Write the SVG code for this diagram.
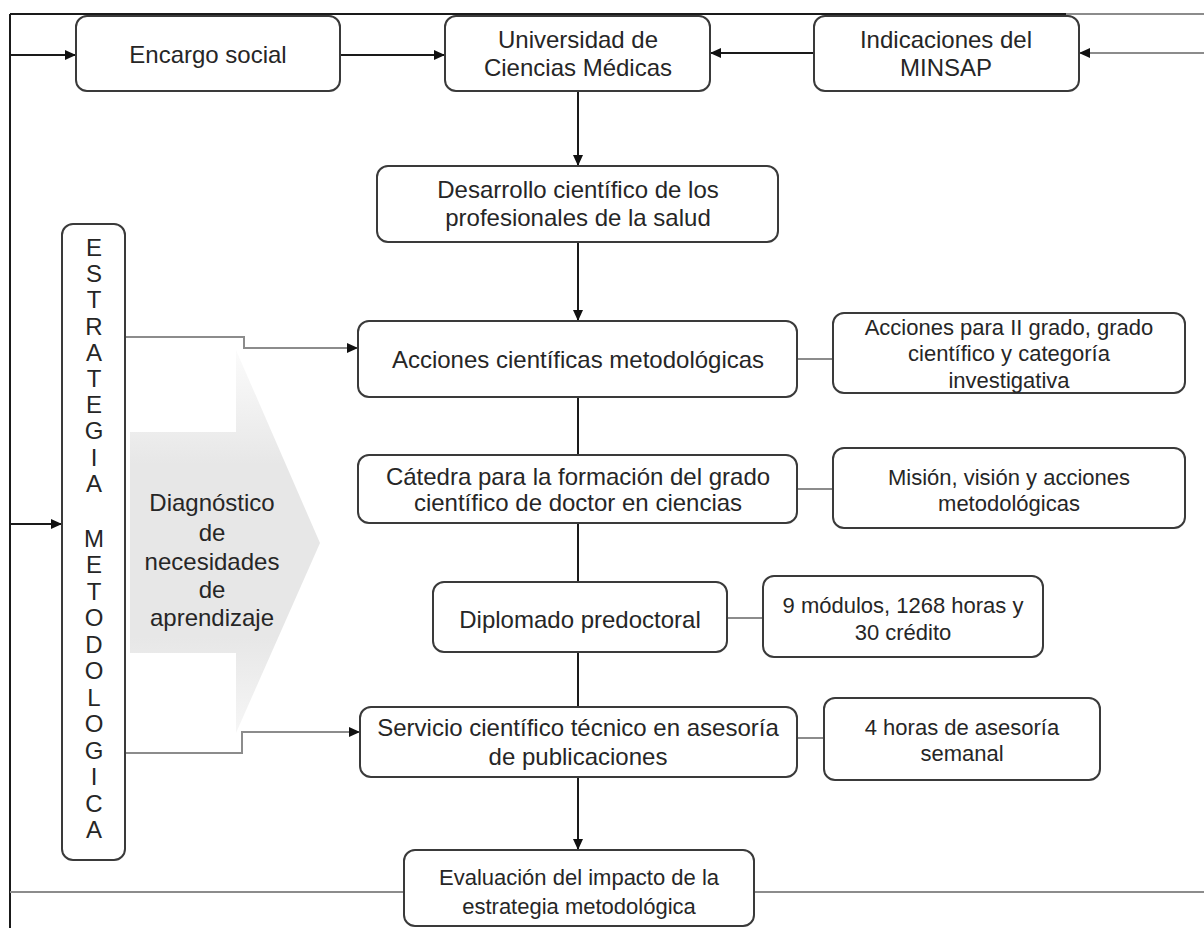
<svg xmlns="http://www.w3.org/2000/svg" width="1204" height="928" viewBox="0 0 1204 928">
<style>
.box{fill:#fff;stroke:#3a3a3a;stroke-width:2}
.t{font-family:"Liberation Sans",Arial,sans-serif;font-size:24px;fill:#262626;text-anchor:middle}
.s{font-size:22px}
.dk{fill:none;stroke:#1a1a1a;stroke-width:2}
.gr{fill:none;stroke:#8c8c8c;stroke-width:2}
</style>
<defs>
<marker id="ah" markerUnits="userSpaceOnUse" markerWidth="12" markerHeight="10" refX="11" refY="5" orient="auto">
<path d="M0,0 L11,5 L0,10 Z" fill="#111"/>
</marker>
<linearGradient id="gg" x1="0" y1="350" x2="0" y2="733" gradientUnits="userSpaceOnUse">
<stop offset="0" stop-color="#fbfbfb"/>
<stop offset="0.3" stop-color="#e7e7e7"/>
<stop offset="0.75" stop-color="#e7e7e7"/>
<stop offset="1" stop-color="#f6f6f6"/>
</linearGradient>
</defs>
<rect width="1204" height="928" fill="#fff"/>
<g id="bigarrow">
<path d="M130,432 L236,432 L236,350 L320,543 L236,733 L236,653 L130,653 Z" fill="url(#gg)"/>
</g>
<g id="connectors">
<path class="dk" d="M10,14 L1066,14"/>
<path class="gr" d="M1066,14 L1204,14"/>
<path class="dk" d="M10,14 L10,928"/>
<path class="gr" d="M10,892 L1204,892"/>
<path class="dk" d="M10,55 L76,55" marker-end="url(#ah)"/>
<path class="dk" d="M340,55 L445,55" marker-end="url(#ah)"/>
<path class="dk" d="M814,53 L710,53" marker-end="url(#ah)"/>
<path class="gr" d="M1204,53 L1079,53" marker-end="url(#ah)"/>
<path class="dk" d="M10,524 L62,524" marker-end="url(#ah)"/>
<path class="dk" d="M578,91 L578,166" marker-end="url(#ah)"/>
<path class="dk" d="M578,242 L578,321" marker-end="url(#ah)"/>
<path class="dk" d="M578,397 L578,455"/>
<path class="dk" d="M578,523 L578,582"/>
<path class="dk" d="M578,652 L578,707"/>
<path class="dk" d="M578,777 L578,850" marker-end="url(#ah)"/>
<path class="gr" d="M125,337 L244,337 L244,348 L358,348" marker-end="url(#ah)"/>
<path class="gr" d="M125,753 L242,753 L242,732 L360,732" marker-end="url(#ah)"/>
<path class="gr" d="M797,359 L833,359"/>
<path class="gr" d="M797,489 L833,489"/>
<path class="gr" d="M727,618 L763,618"/>
<path class="gr" d="M797,738 L824,738"/>
</g>
<g id="encargo"><rect class="box" x="76" y="16" width="264" height="75" rx="11"/><text class="t" x="208" y="63">Encargo social</text></g>
<g id="universidad"><rect class="box" x="445" y="16" width="265" height="75" rx="11"/><text class="t" x="578" y="48">Universidad de</text><text class="t" x="578" y="76">Ciencias Médicas</text></g>
<g id="minsap"><rect class="box" x="814" y="16" width="265" height="75" rx="11"/><text class="t" x="946" y="48">Indicaciones del</text><text class="t" x="946" y="76">MINSAP</text></g>
<g id="desarrollo"><rect class="box" x="377" y="166" width="401" height="76" rx="11"/><text class="t" x="578" y="198">Desarrollo científico de los</text><text class="t" x="578" y="226">profesionales de la salud</text></g>
<g id="estrategia"><rect class="box" x="62" y="224" width="63" height="636" rx="11"/>
<text class="t" x="94" y="256">E</text><text class="t" x="94" y="282">S</text><text class="t" x="94" y="308">T</text><text class="t" x="94" y="335">R</text><text class="t" x="94" y="361">A</text><text class="t" x="94" y="387">T</text><text class="t" x="94" y="413">E</text><text class="t" x="94" y="439">G</text><text class="t" x="94" y="466">I</text><text class="t" x="94" y="492">A</text>
<text class="t" x="94" y="547">M</text><text class="t" x="94" y="573">E</text><text class="t" x="94" y="600">T</text><text class="t" x="94" y="626">O</text><text class="t" x="94" y="653">D</text><text class="t" x="94" y="679">O</text><text class="t" x="94" y="706">L</text><text class="t" x="94" y="732">O</text><text class="t" x="94" y="759">G</text><text class="t" x="94" y="785">I</text><text class="t" x="94" y="812">C</text><text class="t" x="94" y="838">A</text>
</g>
<g id="diagnostico"><text class="t" x="212" y="511">Diagnóstico</text><text class="t" x="212" y="541">de</text><text class="t" x="212" y="570">necesidades</text><text class="t" x="212" y="598">de</text><text class="t" x="212" y="626">aprendizaje</text></g>
<g id="acciones"><rect class="box" x="358" y="321" width="439" height="76" rx="11"/><text class="t" x="578" y="368">Acciones científicas metodológicas</text></g>
<g id="acciones2"><rect class="box" x="833" y="313" width="352" height="80" rx="11"/><text class="t s" x="1009" y="335">Acciones para II grado, grado</text><text class="t s" x="1009" y="361">científico y categoría</text><text class="t s" x="1009" y="388">investigativa</text></g>
<g id="catedra"><rect class="box" x="358" y="455" width="439" height="68" rx="11"/><text class="t" x="578" y="485">Cátedra para la formación del grado</text><text class="t" x="578" y="511">científico de doctor en ciencias</text></g>
<g id="mision"><rect class="box" x="833" y="448" width="352" height="80" rx="11"/><text class="t s" x="1009" y="485">Misión, visión y acciones</text><text class="t s" x="1009" y="511">metodológicas</text></g>
<g id="diplomado"><rect class="box" x="433" y="582" width="294" height="70" rx="11"/><text class="t" x="580" y="628">Diplomado predoctoral</text></g>
<g id="modulos"><rect class="box" x="763" y="576" width="280" height="81" rx="11"/><text class="t s" x="903" y="613">9 módulos,  1268 horas y</text><text class="t s" x="903" y="640">30 crédito</text></g>
<g id="servicio"><rect class="box" x="360" y="707" width="437" height="70" rx="11"/><text class="t" x="578" y="736">Servicio científico técnico en asesoría</text><text class="t" x="578" y="765">de publicaciones</text></g>
<g id="horas"><rect class="box" x="824" y="698" width="276" height="82" rx="11"/><text class="t s" x="962" y="735">4 horas de asesoría</text><text class="t s" x="962" y="761">semanal</text></g>
<g id="evaluacion"><rect class="box" x="404" y="850" width="350" height="76" rx="11"/><text class="t s" x="579" y="885">Evaluación del impacto de la</text><text class="t s" x="579" y="914">estrategia metodológica</text></g>
</svg>
